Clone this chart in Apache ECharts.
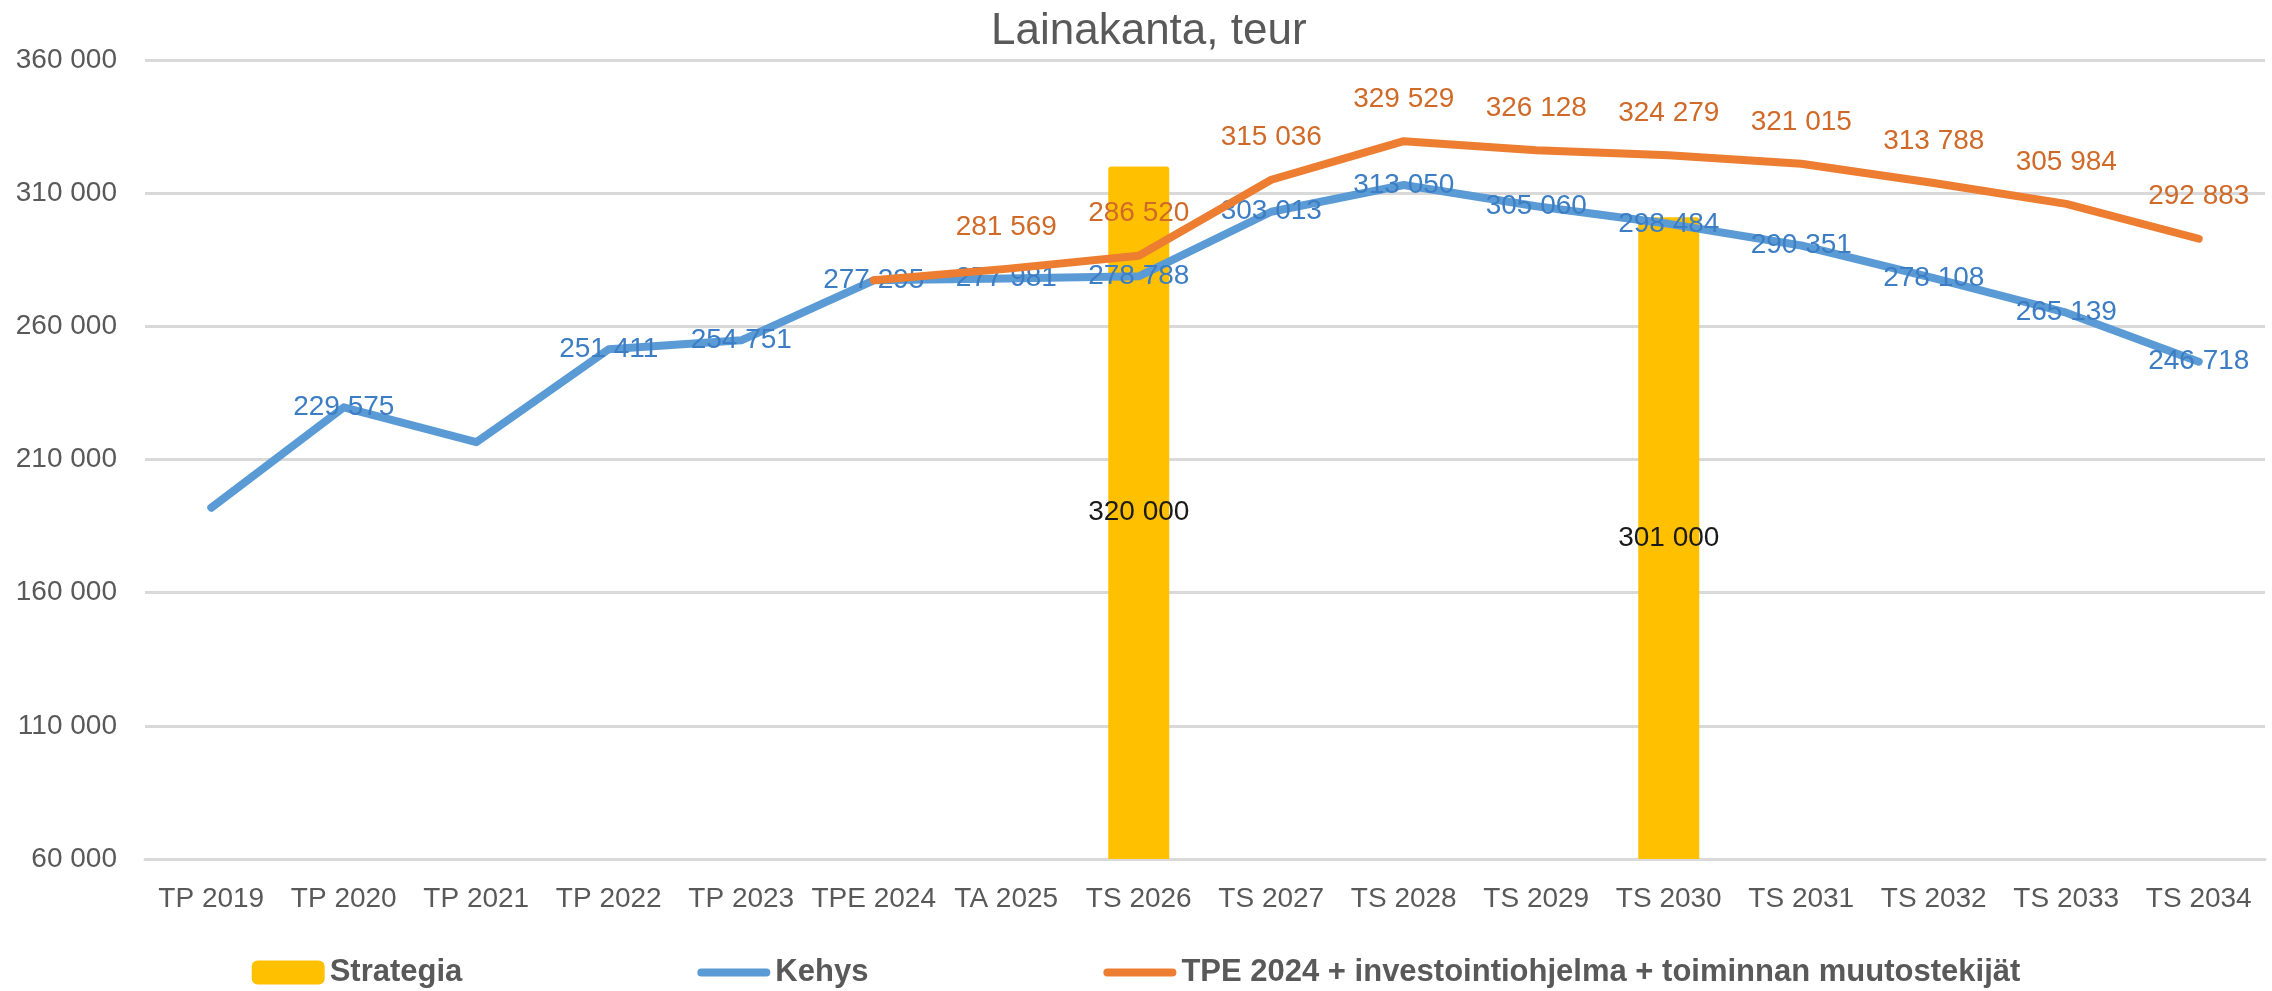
<!DOCTYPE html>
<html>
<head>
<meta charset="utf-8">
<script src="https://cdn.jsdelivr.net/npm/echarts@6/dist/echarts.min.js"></script>
<style>
  html, body { margin: 0; padding: 0; background: #ffffff; }
  #chart { width: 2272px; height: 991px; }
</style>
</head>
<body>
<div id="chart"></div>
<script>
const categories = ['TP 2019','TP 2020','TP 2021','TP 2022','TP 2023','TPE 2024','TA 2025','TS 2026','TS 2027','TS 2028','TS 2029','TS 2030','TS 2031','TS 2032','TS 2033','TS 2034'];
const strategia = [null,null,null,null,null,null,null,320000,null,null,null,301000,null,null,null,null];
const kehys = [191900,229575,216500,251411,254751,277295,277981,278788,303013,313050,305060,298484,290351,278108,265139,246718];
const tpe = [null,null,null,null,null,277295,281569,286520,315036,329529,326128,324279,321015,313788,305984,292883];
// indices whose data label is not shown in the reference
const kehysHiddenLabels = [0,2];
const tpeHiddenLabels = [5];
const yMin = 60000, yMax = 360000, yStep = 50000;

const FONT = '"Liberation Sans", Arial, sans-serif';
function fmt(v) { return String(Math.round(v)).replace(/\B(?=(\d{3})+(?!\d))/g, ' '); }
const lineIcon = 'path://M4,0 L69,0 A4,4 0 0 1 69,8 L4,8 A4,4 0 0 1 4,0 Z';

const chart = echarts.init(document.getElementById('chart'), null, { renderer: 'canvas' });
chart.setOption({
  animation: false,
  backgroundColor: '#ffffff',
  textStyle: { fontFamily: FONT },
  title: {
    text: 'Lainakanta, teur',
    left: 986,
    top: 5,
    textStyle: { fontFamily: FONT, fontSize: 44, fontWeight: 'normal', color: '#595959' }
  },
  legend: {
    left: 'center',
    top: 952,
    itemWidth: 73,
    itemHeight: 24,
    itemGap: 235,
    symbolKeepAspect: true,
    textStyle: { fontFamily: FONT, fontSize: 31, fontWeight: 'bold', color: '#595959' },
    data: [
      { name: 'Strategia', icon: 'roundRect' },
      { name: 'Kehys', icon: lineIcon },
      { name: 'TPE 2024 + investointiohjelma + toiminnan muutostekijät', icon: lineIcon }
    ]
  },
  grid: { left: 145, right: 7, top: 60, bottom: 132 },
  xAxis: {
    type: 'category',
    data: categories,
    boundaryGap: true,
    axisLine: { show: true, lineStyle: { color: '#D9D9D9', width: 3 } },
    axisTick: { show: false },
    axisLabel: { interval: 0, fontFamily: FONT, fontSize: 28, color: '#595959', margin: 26 }
  },
  yAxis: {
    type: 'value',
    min: yMin, max: yMax, interval: yStep,
    axisLine: { show: false },
    axisTick: { show: false },
    splitLine: { lineStyle: { color: '#D9D9D9', width: 3 } },
    axisLabel: { fontFamily: FONT, fontSize: 28, color: '#595959', margin: 28, formatter: fmt }
  },
  series: [
    {
      name: 'Strategia',
      type: 'bar',
      data: strategia,
      barWidth: 61,
      z: 1,
      itemStyle: { color: '#FFC000', borderRadius: [3,3,0,0] },
      label: { show: true, position: 'inside', fontFamily: FONT, fontSize: 28, color: '#1a1a1a',
        formatter: p => p.value == null ? '' : fmt(p.value) }
    },
    {
      name: 'Kehys',
      type: 'line',
      data: kehys.map((v, i) => kehysHiddenLabels.includes(i) ? { value: v, label: { show: false } } : v),
      showSymbol: true,
      symbol: 'circle',
      symbolSize: 0,
      z: 3,
      lineStyle: { color: '#5B9BD5', width: 8, cap: 'round', join: 'round' },
      itemStyle: { color: '#5B9BD5' },
      label: { show: true, position: 'inside', fontFamily: FONT, fontSize: 28, color: '#3C7DC4',
        formatter: p => fmt(p.value) },
      labelLayout: { hideOverlap: false }
    },
    {
      name: 'TPE 2024 + investointiohjelma + toiminnan muutostekijät',
      type: 'line',
      data: tpe.map((v, i) => (v != null && tpeHiddenLabels.includes(i)) ? { value: v, label: { show: false } } : v),
      showSymbol: true,
      symbol: 'circle',
      symbolSize: 0,
      z: 4,
      lineStyle: { color: '#ED7D31', width: 8, cap: 'round', join: 'round' },
      itemStyle: { color: '#ED7D31' },
      label: { show: true, position: 'top', distance: 28, fontFamily: FONT, fontSize: 28, color: '#D06A28',
        formatter: p => p.value == null ? '' : fmt(p.value) },
      labelLayout: { hideOverlap: false }
    }
  ]
});
</script>
</body>
</html>
